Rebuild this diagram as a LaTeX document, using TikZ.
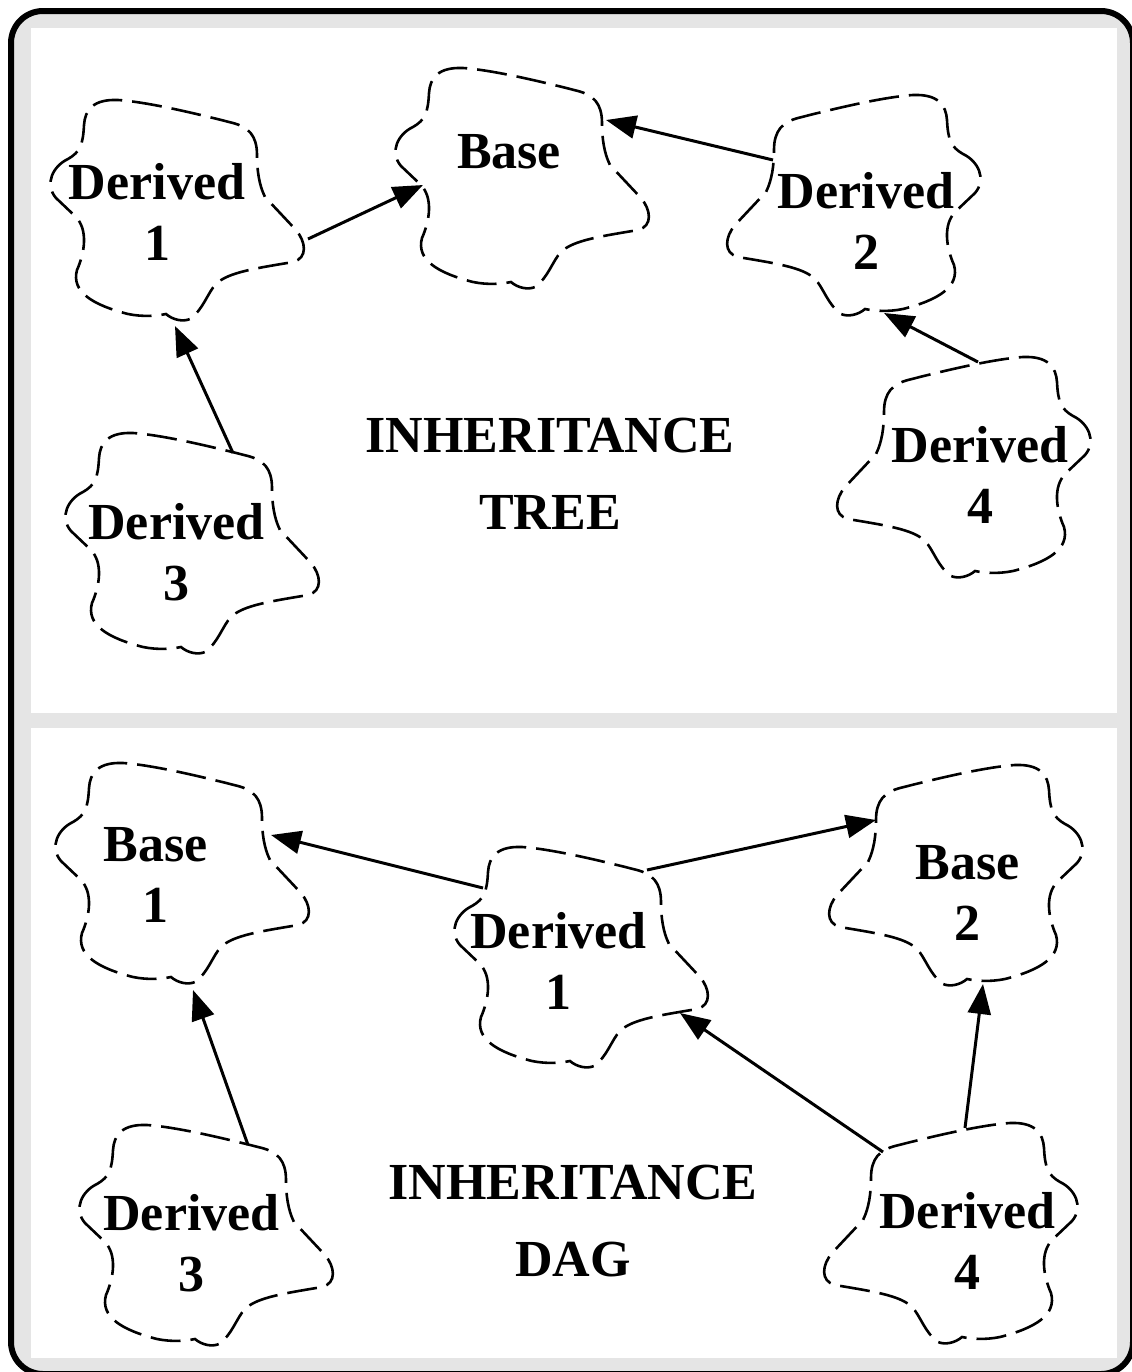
\documentclass[tikz,border=0pt]{standalone}
\usepackage{fontspec}
\setmainfont{Liberation Serif}
\usetikzlibrary{arrows.meta}
\definecolor{framegray}{HTML}{E5E5E5}
\tikzset{
  cloudline/.style={line width=1.3pt, dash pattern=on 15pt off 5pt},
  blob/.pic={
    \draw[cloudline] (20,59) .. controls (5,66) and (-4,84) .. (8,98)
      -- (28,117) .. controls (40,130) and (37,152) .. (29,170)
      .. controls (23,192) and (45,205) .. (80,214)
      .. controls (95,217) and (108,216) .. (118,214)
      .. controls (125,220) and (135,222) .. (142,219)
      .. controls (155,210) and (160,192) .. (168,184)
      .. controls (180,172) and (210,168) .. (245,162)
      .. controls (260,158) and (258,142) .. (248,130)
      -- (217,97)
      .. controls (211,85) and (209,70) .. (209,55)
      .. controls (209,35) and (200,27) .. (185,23)
      .. controls (150,14) and (100,2) .. (70,0)
      .. controls (45,-1) and (37,10) .. (36,25)
      .. controls (35,45) and (32,52) .. (20,59) -- cycle;
  },
  cloudtext/.style={font=\fontsize{26}{30.5}\selectfont\bfseries, align=center, inner sep=0pt},
  headline/.style={font=\fontsize{26}{38.5}\selectfont\bfseries, align=center, inner sep=0pt},
  inherits/.style={line width=1.5pt, -{Triangle[length=15pt,width=11.5pt]}},
}
\begin{document}
\begin{tikzpicture}[x=0.5pt,y=-0.5pt]
\useasboundingbox (0,0) rectangle (1131,1372);
% frame and the two panels
\draw[line width=3pt, fill=framegray, rounded corners=16pt] (11,11) rectangle (1133,1374);
\fill[white] (31,28) rectangle (1117,713);
\fill[white] (31,728) rectangle (1117,1358);

% ---------- inheritance tree ----------
\pic (tcd1) at (48,100) {blob};
\pic (tcbase) at (393,68) {blob};
\pic[xscale=-1] (tcd2) at (983,95) {blob};
\pic (tcd3) at (63,433) {blob};
\pic[xscale=-1] (tcd4) at (1093,357) {blob};

\node[cloudtext] (td1) at (157,212.4) {Derived\\1};
\node[cloudtext, anchor=base] (tbase) at (509,168.3) {Base};
\node[cloudtext] (td2) at (866,221.4) {Derived\\2};
\node[cloudtext] (td3) at (176.5,552.4) {Derived\\3};
\node[cloudtext] (td4) at (980,474.8) {Derived\\4};
\node[headline] (ttitle) at (550,473.3) {INHERITANCE\\TREE};

\coordinate (td1-out) at (308,239);
\coordinate (td1-in) at (175,326);
\coordinate (tbase-inl) at (423,185);
\coordinate (tbase-inr) at (606,120);
\coordinate (td2-out) at (773,160);
\coordinate (td2-in) at (884,313);
\coordinate (td3-out) at (233,453);
\coordinate (td4-out) at (978,362);

\draw[inherits] (td1-out) -- (tbase-inl);
\draw[inherits] (td2-out) -- (tbase-inr);
\draw[inherits] (td3-out) -- (td1-in);
\draw[inherits] (td4-out) -- (td2-in);

% ---------- inheritance DAG ----------
\pic (bcb1) at (53,763) {blob};
\pic (bcd1) at (452,847) {blob};
\pic[xscale=-1] (bcb2) at (1085,765) {blob};
\pic (bcd3) at (77,1125) {blob};
\pic[xscale=-1] (bcd4) at (1080,1123) {blob};

\node[cloudtext] (bb1) at (155.5,875.2) {Base\\1};
\node[cloudtext] (bd1) at (558.5,961.4) {Derived\\1};
\node[cloudtext] (bb2) at (967.5,892.8) {Base\\2};
\node[cloudtext] (bd3) at (191.5,1243.3) {Derived\\3};
\node[cloudtext] (bd4) at (967.5,1241.4) {Derived\\4};
\node[headline] (btitle) at (573,1221.3) {INHERITANCE\\DAG};

\coordinate (bb1-in) at (271,835);
\coordinate (bb1-inb) at (193,990);
\coordinate (bd1-outl) at (483,888);
\coordinate (bd1-outr) at (647,870);
\coordinate (bd1-in) at (680,1013);
\coordinate (bb2-in) at (876,820);
\coordinate (bb2-inb) at (983,984);
\coordinate (bd3-out) at (248,1145);
\coordinate (bd4-outl) at (883,1152);
\coordinate (bd4-outt) at (965,1128);

\draw[inherits] (bd1-outl) -- (bb1-in);
\draw[inherits] (bd1-outr) -- (bb2-in);
\draw[inherits] (bd3-out) -- (bb1-inb);
\draw[inherits] (bd4-outl) -- (bd1-in);
\draw[inherits] (bd4-outt) -- (bb2-inb);
\end{tikzpicture}
\end{document}
